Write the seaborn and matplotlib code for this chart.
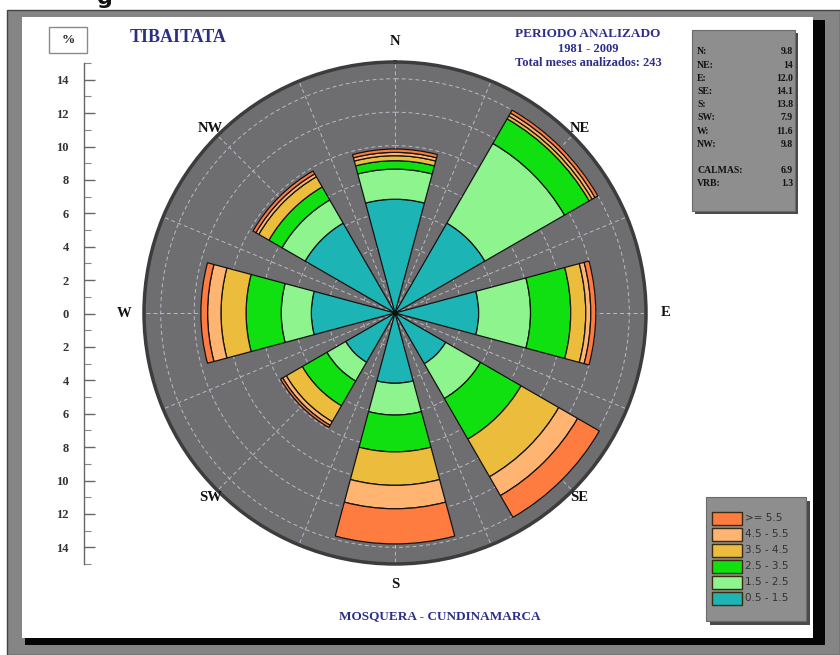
import matplotlib
matplotlib.use("Agg")
import matplotlib.pyplot as plt
from matplotlib.patches import Rectangle
import numpy as np
import seaborn as sns

# wind rose data, % of months per direction and speed class (m/s)
DIRECTIONS = ["N", "NE", "E", "SE", "S", "SW", "W", "NW"]
SPEED_BINS = ["0.5 - 1.5", "1.5 - 2.5", "2.5 - 3.5", "3.5 - 4.5", "4.5 - 5.5", ">= 5.5"]
FREQ_05_15 = [6.8, 6.2, 5.0, 3.5, 4.2, 3.4, 5.0, 6.2]
FREQ_15_25 = [1.8, 5.5, 3.1, 2.4, 1.9, 1.3, 1.8, 1.6]
FREQ_25_35 = [0.5, 1.7, 2.4, 2.8, 2.2, 1.7, 2.1, 0.9]
FREQ_35_45 = [0.3, 0.2, 0.9, 2.6, 2.0, 1.1, 1.5, 0.7]
FREQ_45_55 = [0.2, 0.2, 0.3, 1.3, 1.4, 0.25, 0.8, 0.2]
FREQ_55 = [0.2, 0.2, 0.3, 1.5, 2.1, 0.15, 0.4, 0.2]
TOTALS = ["9.8", "14", "12.0", "14.1", "13.8", "7.9", "11.6", "9.8"]
CALMAS = "6.9"
VRB = "1.3"
SCALE_TICKS = list(range(-14, 15, 2))
RING_TICKS = [2, 4, 6, 8, 10, 12, 14]

BIN_COLORS = ["#1cb4b4", "#8ef58e", "#10e010", "#ecbc3c", "#ffb472", "#ff7c40"]
NAVY = "#2c2f86"
SERIF = ["Liberation Serif", "DejaVu Serif"]

sns.set_style("white")
plt.rcParams["font.family"] = ["DejaVu Sans"]

W, H = 840, 655
fig = plt.figure(figsize=(W / 100, H / 100), dpi=100)
fig.patch.set_facecolor("white")


def px_axes(x, y, w, h, **kw):
    # place an axes using pixel coordinates measured from the top-left corner
    return fig.add_axes([x / W, (H - y - h) / H, w / W, h / H], **kw)


# frame, shadow and white page
bg = px_axes(0, 0, W, H)
bg.set_xlim(0, W)
bg.set_ylim(H, 0)
bg.axis("off")
bg.add_patch(Rectangle((7, 10), W - 7, H - 10, facecolor="#858585", edgecolor="#444444", lw=1))
bg.add_patch(Rectangle((25, 20), 800, 625, facecolor="#050505", edgecolor="none"))
bg.add_patch(Rectangle((22, 17), 791, 621, facecolor="white", edgecolor="none"))
bg.text(105, 4, "g", fontsize=16, fontweight="bold", ha="center", va="baseline", color="#111111")

# titles
bg.text(178, 38, "TIBAITATA", family=SERIF, fontsize=13, fontweight="bold", color=NAVY,
        ha="center", va="center")
bg.text(588, 34, "PERIODO ANALIZADO", family=SERIF, fontsize=9.5, fontweight="bold",
        color=NAVY, ha="center", va="center")
bg.text(588, 49, "1981 - 2009", family=SERIF, fontsize=9, fontweight="bold",
        color=NAVY, ha="center", va="center")
bg.text(588, 63, "Total meses analizados: 243", family=SERIF, fontsize=9, fontweight="bold",
        color=NAVY, ha="center", va="center")
bg.text(440, 616, "MOSQUERA - CUNDINAMARCA", family=SERIF, fontsize=9.5, fontweight="bold",
        color=NAVY, ha="center", va="center")

# "%" box
bg.add_patch(Rectangle((49, 27), 38, 26, facecolor="white", edgecolor="#8a8a8a", lw=1))
bg.text(68, 40, "%", family=SERIF, fontsize=9.5, fontweight="bold", color="#222222",
        ha="center", va="center")

# statistics box
bg.add_patch(Rectangle((695, 33), 103, 181, facecolor="#4a4a4a", edgecolor="none"))
bg.add_patch(Rectangle((692, 30), 103, 181, facecolor="#8e8e8e", edgecolor="#6a6a6a", lw=0.8))
stat_rows = [(d + ":", v) for d, v in zip(DIRECTIONS, TOTALS)] + [("", ""), ("CALMAS:", CALMAS), ("VRB:", VRB)]
for i, (lab, val) in enumerate(stat_rows):
    y = 52 + i * 13.2
    bg.text(697, y, lab, family=SERIF, fontsize=7, fontweight="bold", color="#111111",
            ha="left", va="center")
    bg.text(793, y, val, family=SERIF, fontsize=7, fontweight="bold", color="#111111",
            ha="right", va="center")

# legend box
bg.add_patch(Rectangle((710, 501), 100, 124, facecolor="#4a4a4a", edgecolor="none"))
bg.add_patch(Rectangle((706, 497), 100, 124, facecolor="#8e8e8e", edgecolor="#6a6a6a", lw=0.8))
for i, (lab, col) in enumerate(zip(SPEED_BINS[::-1], BIN_COLORS[::-1])):
    y = 518 + i * 16
    bg.add_patch(Rectangle((712, y - 6.5), 30, 13, facecolor=col, edgecolor="#3a2a10", lw=1))
    bg.text(745, y, lab, fontsize=7.5, color="#333333", ha="left", va="center")

# left % scale
sc = px_axes(84, 63, 20, 501)
sc.patch.set_visible(False)
sc.set_ylim(-15, 15)
sc.set_xlim(0, 1)
for side in ["top", "right", "bottom"]:
    sc.spines[side].set_visible(False)
sc.spines["left"].set_color("#666666")
sc.spines["left"].set_linewidth(1)
sc.set_xticks([])
sc.set_yticks(SCALE_TICKS)
sc.set_yticklabels([str(abs(t)) for t in SCALE_TICKS], family=SERIF, fontweight="bold")
sc.set_yticks(range(-15, 16), minor=True)
sc.tick_params(axis="y", which="both", left=True, right=False)
sc.tick_params(axis="y", which="major", direction="in", length=8, width=1, color="#666666",
               labelsize=9, labelcolor="#333333", pad=11)
sc.tick_params(axis="y", which="minor", direction="in", length=5, width=0.8, color="#888888")

# wind rose
ax = px_axes(395 - 251, 313 - 251, 502, 502, projection="polar")
ax.set_theta_zero_location("N")
ax.set_theta_direction(-1)
ax.set_facecolor("#6e6e70")
ax.set_ylim(0, 15)
ax.set_rgrids(RING_TICKS, labels=[])
ax.set_thetagrids(np.arange(0, 360, 22.5), labels=[])
ax.grid(True, color="#b9b9c9", linestyle=(0, (4, 3)), linewidth=0.7)
ax.set_axisbelow(True)
ax.spines["polar"].set_color("#3c3c3c")
ax.spines["polar"].set_linewidth(2.5)

theta = np.deg2rad(np.arange(len(DIRECTIONS)) * 45)
width = np.deg2rad(30)
bottom = np.zeros(len(DIRECTIONS))
for vals, col in zip([FREQ_05_15, FREQ_15_25, FREQ_25_35, FREQ_35_45, FREQ_45_55, FREQ_55], BIN_COLORS):
    vals = np.array(vals)
    ax.bar(theta, vals, width=width, bottom=bottom, color=col, edgecolor="#141414",
           linewidth=0.9, zorder=3)
    bottom += vals
ax.plot([0], [0], "o", color="#111111", ms=3, zorder=4)

for i, d in enumerate(DIRECTIONS):
    r = 16.2 if len(d) == 1 else 15.6
    ax.text(theta[i], r, d, family=SERIF, fontsize=10.5, fontweight="bold", color="#111111",
            ha="center", va="center", clip_on=False)

fig.savefig("out.png", dpi=100)
